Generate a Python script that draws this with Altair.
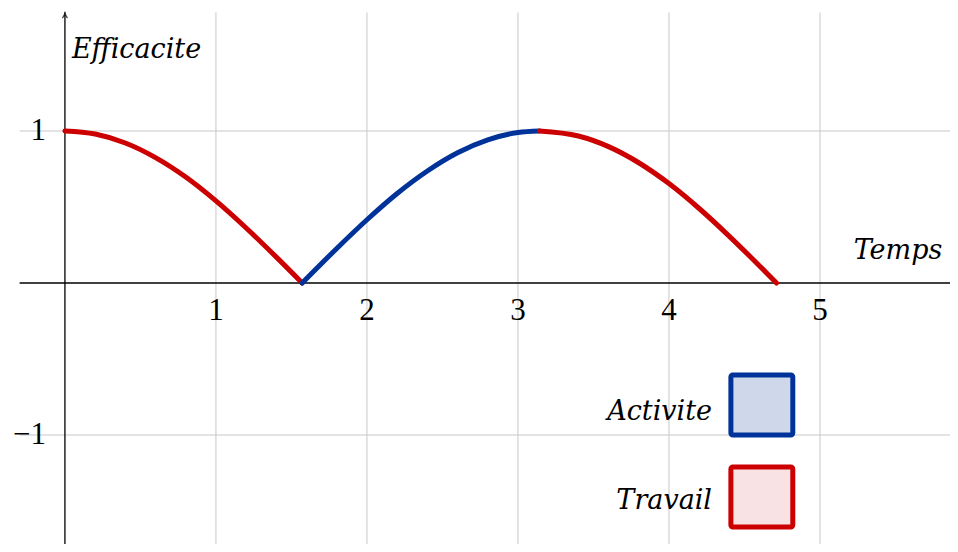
import altair as alt
import pandas as pd

# Curve values (Efficacite vs Temps)
trav1_x = [0.0, 0.2, 0.4, 0.6, 0.8, 1.0, 1.2, 1.4, 1.571]
trav1_y = [1.0, 0.98, 0.921, 0.825, 0.697, 0.54, 0.362, 0.17, 0.0]
act_x = [1.571, 1.8, 2.0, 2.2, 2.4, 2.6, 2.8, 3.0, 3.142]
act_y = [0.0, 0.227, 0.416, 0.589, 0.737, 0.857, 0.942, 0.99, 1.0]
trav2_x = [3.142, 3.4, 3.6, 3.8, 4.0, 4.2, 4.4, 4.6, 4.712]
trav2_y = [1.0, 0.967, 0.897, 0.791, 0.654, 0.49, 0.307, 0.112, 0.0]

x_ticks = [1, 2, 3, 4, 5]
y_ticks = [-1, 1]
legend_names = ["Activite", "Travail"]

XMIN, XMAX = -0.377, 5.861
YMIN, YMAX = -1.717, 1.809
AX_LEFT = -0.3

RED = "#cc0000"
BLUE = "#003399"
FONT = "Liberation Serif"
IFONT = "DejaVu Serif"
FS = 31
IFS = 27

rows = []
for seg, name, xs_, ys_ in [("a", "Travail", trav1_x, trav1_y),
                            ("b", "Activite", act_x, act_y),
                            ("c", "Travail", trav2_x, trav2_y)]:
    for x, y in zip(xs_, ys_):
        rows.append({"seg": seg, "name": name, "x": x, "y": y})
curve = pd.DataFrame(rows)

xs = alt.Scale(domain=[XMIN, XMAX], nice=False, zero=False)
ys = alt.Scale(domain=[YMIN, YMAX], nice=False, zero=False)
cscale = alt.Scale(domain=legend_names, range=[BLUE, RED])

vgrid = alt.Chart(pd.DataFrame({"x": x_ticks, "y1": [YMIN] * 5, "y2": [1.78] * 5})).mark_rule(
    color="#c8c8c8", strokeWidth=1
).encode(x=alt.X("x:Q", scale=xs, axis=None), y=alt.Y("y1:Q", scale=ys, axis=None), y2="y2:Q")

hgrid = alt.Chart(pd.DataFrame({"y": y_ticks, "x1": [AX_LEFT] * 2, "x2": [XMAX] * 2})).mark_rule(
    color="#c8c8c8", strokeWidth=1
).encode(y=alt.Y("y:Q", scale=ys, axis=None), x=alt.X("x1:Q", scale=xs, axis=None), x2="x2:Q")

xaxis = alt.Chart(pd.DataFrame({"y": [0], "x1": [AX_LEFT], "x2": [XMAX]})).mark_rule(
    color="black", strokeWidth=1.3
).encode(y=alt.Y("y:Q", scale=ys, axis=None), x=alt.X("x1:Q", scale=xs, axis=None), x2="x2:Q")

yaxis = alt.Chart(pd.DataFrame({"x": [0], "y1": [YMIN], "y2": [1.785]})).mark_rule(
    color="black", strokeWidth=1.3
).encode(x=alt.X("x:Q", scale=xs, axis=None), y=alt.Y("y1:Q", scale=ys, axis=None), y2="y2:Q")

arrow = alt.Chart(pd.DataFrame({"x": [0], "y": [1.765]})).mark_point(
    shape="M-0.6,0.8 Q-0.2,0.2 0,-0.2 Q0.2,0.2 0.6,0.8", filled=False, stroke="black",
    strokeWidth=1.3, size=70
).encode(x=alt.X("x:Q", scale=xs, axis=None), y=alt.Y("y:Q", scale=ys, axis=None))

lines = alt.Chart(curve).mark_line(strokeWidth=5, strokeCap="round", strokeJoin="round", interpolate="monotone").encode(
    x=alt.X("x:Q", scale=xs, axis=None),
    y=alt.Y("y:Q", scale=ys, axis=None),
    color=alt.Color("name:N", scale=cscale, legend=None),
    detail="seg:N",
)

xlab = alt.Chart(pd.DataFrame({"x": x_ticks, "y": [-0.184] * 5, "t": [str(v) for v in x_ticks]})).mark_text(
    font=FONT, fontSize=FS, color="black", baseline="middle", align="center"
).encode(x=alt.X("x:Q", scale=xs, axis=None), y=alt.Y("y:Q", scale=ys, axis=None), text="t:N")

ylab = alt.Chart(pd.DataFrame({"x": [-0.125, -0.125], "y": y_ticks, "t": ["\u22121", "1"]})).mark_text(
    font=FONT, fontSize=FS, color="black", baseline="middle", align="right"
).encode(x=alt.X("x:Q", scale=xs, axis=None), y=alt.Y("y:Q", scale=ys, axis=None), text="t:N")

title_e = alt.Chart(pd.DataFrame({"x": [0.046], "y": [1.535], "t": ["Efficacite"]})).mark_text(
    font=IFONT, fontSize=IFS, fontStyle="italic", fontWeight=300, color="black", baseline="middle", align="left"
).encode(x=alt.X("x:Q", scale=xs, axis=None), y=alt.Y("y:Q", scale=ys, axis=None), text="t:N")

title_t = alt.Chart(pd.DataFrame({"x": [5.81], "y": [0.21], "t": ["Temps"]})).mark_text(
    font=IFONT, fontSize=IFS, fontStyle="italic", fontWeight=300, color="black", baseline="middle", align="right"
).encode(x=alt.X("x:Q", scale=xs, axis=None), y=alt.Y("y:Q", scale=ys, axis=None), text="t:N")

leg = pd.DataFrame({
    "name": legend_names,
    "x1": [4.41, 4.41], "x2": [4.82, 4.82],
    "y1": [-0.605, -1.21], "y2": [-1.0, -1.605],
    "tx": [4.285, 4.285], "ty": [-0.849, -1.434],
    "fill": ["#cfd8ea", "#f9e2e3"],
})
leg_box = alt.Chart(leg).mark_rect(strokeWidth=5, cornerRadius=2).encode(
    x=alt.X("x1:Q", scale=xs, axis=None), x2="x2:Q",
    y=alt.Y("y1:Q", scale=ys, axis=None), y2="y2:Q",
    stroke=alt.Color("name:N", scale=cscale, legend=None),
    fill=alt.Fill("fill:N", scale=None),
)
leg_txt = alt.Chart(leg).mark_text(
    font=IFONT, fontSize=IFS, fontStyle="italic", fontWeight=300, color="black", baseline="middle", align="right"
).encode(x=alt.X("tx:Q", scale=xs, axis=None), y=alt.Y("ty:Q", scale=ys, axis=None), text="name:N")

chart = alt.layer(vgrid, hgrid, xaxis, yaxis, arrow, lines, xlab, ylab, title_e, title_t, leg_box, leg_txt).properties(
    width=942, height=536, padding=0, autosize=alt.AutoSizeParams(type="none")
).configure_view(stroke=None)

chart.save("out.html", embed_options={"renderer": "svg", "actions": False})
